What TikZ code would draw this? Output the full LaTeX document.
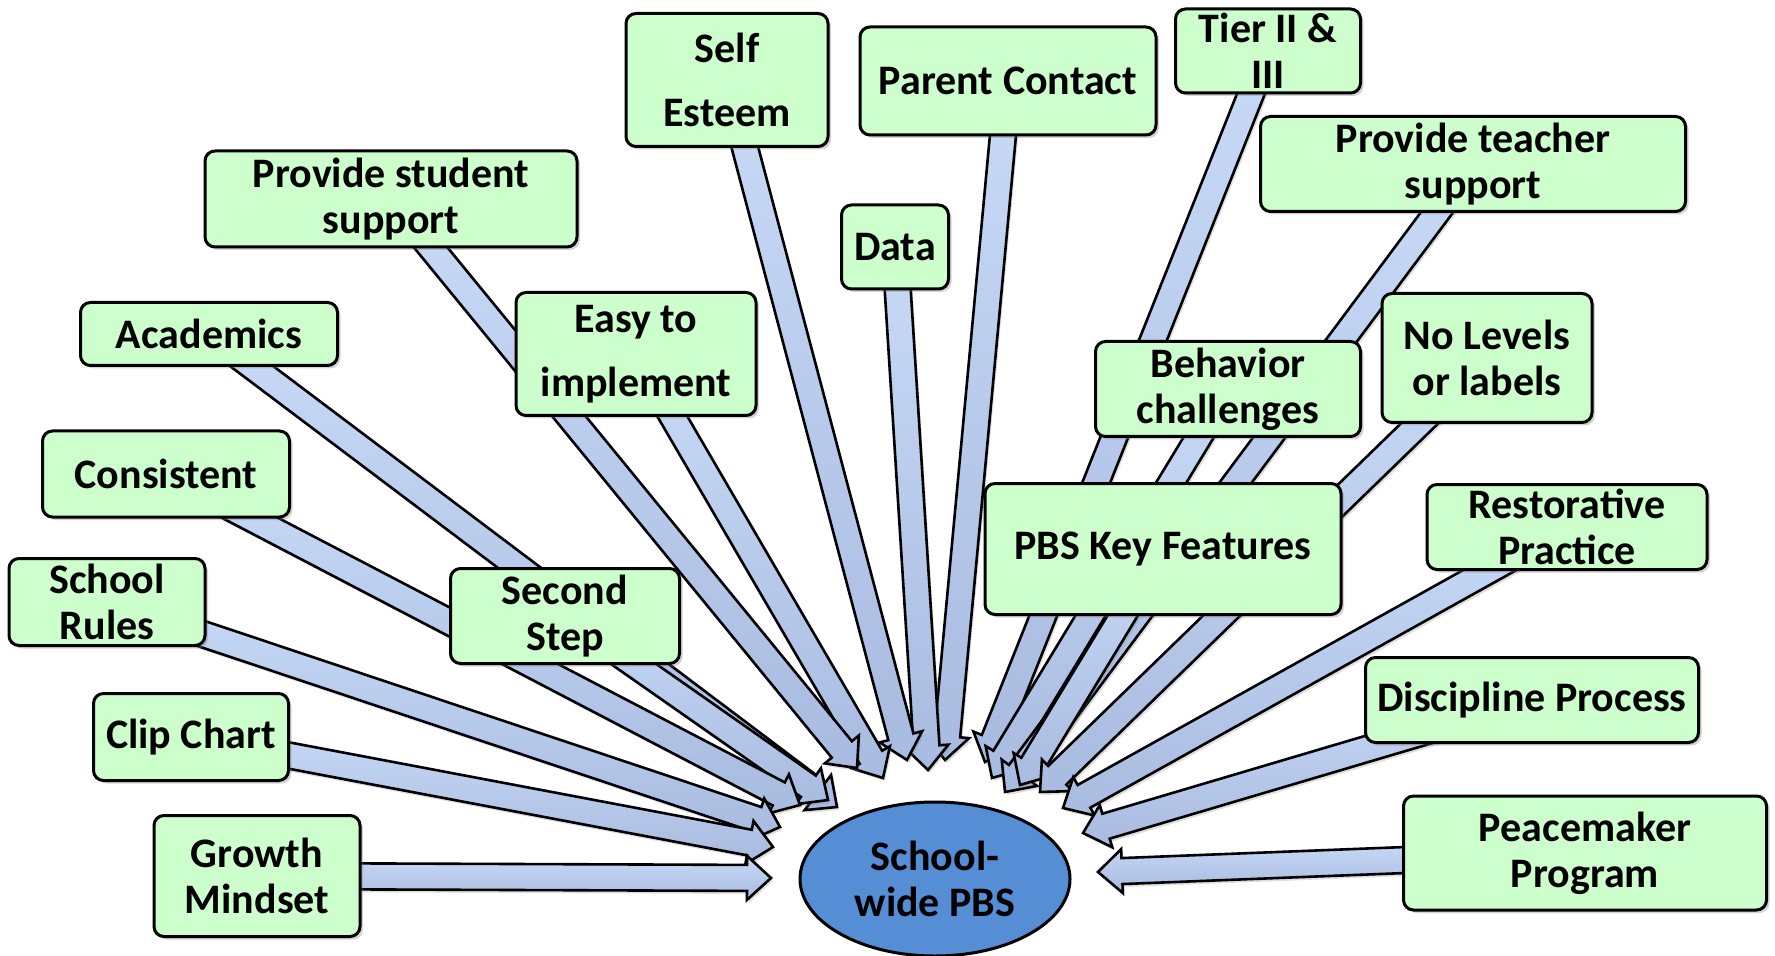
\documentclass[tikz,border=0pt]{standalone}
\usepackage{fontspec}
\setmainfont{Carlito}
\usetikzlibrary{shapes, calc, positioning, shadows}
\definecolor{boxgreen}{RGB}{204,255,204}
\definecolor{feedtop}{RGB}{200,218,247}
\definecolor{feedbot}{RGB}{168,187,224}
\definecolor{hubblue}{RGB}{85,142,213}
\pgfdeclarelayer{bg}
\pgfsetlayers{bg,main}
\newcommand{\shaftw}{6.5pt}
\newcommand{\headw}{11pt}
\newcommand{\headl}{12pt}
\newcommand{\feed}[2]{%
  \draw[feedarrow] let \p1=($(#2)-(#1.center)$), \n1={atan2(\y1,\x1)}, \n2={\n1+90}, \n3={\n1-90} in
    ($(#1.center)+(\n2:\shaftw)$) -- ($(#2)+(\n1:-\headl)+(\n2:\shaftw)$)
    -- ($(#2)+(\n1:-\headl)+(\n2:\headw)$) -- (#2)
    -- ($(#2)+(\n1:-\headl)+(\n3:\headw)$) -- ($(#2)+(\n1:-\headl)+(\n3:\shaftw)$)
    -- ($(#1.center)+(\n3:\shaftw)$) -- cycle;}

\begin{document}
\begin{tikzpicture}[x=0.5pt,y=-0.5pt,
    feedarrow/.style={draw=black, line width=1.3pt, line join=miter, top color=feedtop, bottom color=feedbot,
      drop shadow={opacity=0.25, shadow xshift=1pt, shadow yshift=-1.5pt}},
    box/.style={draw=black, line width=1.5pt, fill=boxgreen, rounded corners=5pt, align=center, inner sep=1pt,
      font=\bfseries\fontsize{21}{23}\selectfont,
      drop shadow={opacity=0.35, shadow xshift=1.5pt, shadow yshift=-1.5pt}}]
    \useasboundingbox (0,0) rectangle (1775,956);

    \begin{scope}
    \tikzstyle{every node}=[box]

    \node[minimum width=101pt, minimum height=66.5pt] (self) at (727,80) {Self\\[9pt]Esteem};
    \node[minimum width=148pt, minimum height=54pt] (parent) at (1008,81) {Parent Contact};
    \node[minimum width=92.5pt, minimum height=42pt] (tier) at (1268,51) {Tier II \&\\III};
    \node[minimum width=212.5pt, minimum height=47.5pt] (teacher) at (1473,164) {Provide teacher\\support};
    \node[minimum width=186pt, minimum height=48pt] (student) at (391,199) {Provide student\\support};
    \node[minimum width=53.5pt, minimum height=42pt] (data) at (895,247) {Data};
    \node[minimum width=128.5pt, minimum height=31.5pt] (academics) at (209,334) {Academics};
    \node[minimum width=120pt, minimum height=61.5pt] (easy) at (636,354) {Easy to\\[9pt]implement};
    \node[minimum width=105pt, minimum height=64.5pt] (levels) at (1487,358) {No Levels\\or labels};
    \node[minimum width=132.5pt, minimum height=47.5pt] (behavior) at (1228,389) {Behavior\\challenges};
    \node[minimum width=123.5pt, minimum height=43pt] (consistent) at (166,474) {Consistent};
    \node[minimum width=178pt, minimum height=65.5pt] (pbs) at (1163,549) {PBS Key Features};
    \node[minimum width=140pt, minimum height=42.5pt] (restorative) at (1567,527) {Restorative\\Practice};
    \node[minimum width=98pt, minimum height=43.5pt] (rules) at (107,602) {School\\Rules};
    \node[minimum width=114.5pt, minimum height=47.5pt] (second) at (565,616) {Second\\Step};
    \node[minimum width=166.5pt, minimum height=42.5pt] (discipline) at (1532,700) {Discipline Process};
    \node[minimum width=97.5pt, minimum height=43.5pt] (clip) at (191,737) {Clip Chart};
    \node[minimum width=103pt, minimum height=60.5pt] (growth) at (257,876) {Growth\\Mindset};
    \node[minimum width=181.5pt, minimum height=57pt] (peace) at (1585,853) {Peacemaker\\Program};

    \end{scope}

    \node[ellipse, draw=black, line width=1.5pt, fill=hubblue, minimum width=135pt, minimum height=77pt, inner sep=0pt,
      align=center, font=\bfseries\fontsize{21}{23}\selectfont] (hub) at (935,879) {School-\\wide PBS};

    \coordinate (growth_t) at (771,878);
    \coordinate (clip_t) at (773,847);
    \coordinate (rules_t) at (780,827);
    \coordinate (consistent_t) at (800,805);
    \coordinate (academics_t) at (837,807);
    \coordinate (second_t) at (828,800);
    \coordinate (student_t) at (857,768);
    \coordinate (easy_t) at (883,778);
    \coordinate (self_t) at (907,760);
    \coordinate (data_t) at (928,770);
    \coordinate (parent_t) at (945,760);
    \coordinate (tier_t) at (985,762);
    \coordinate (behavior_t) at (992,778);
    \coordinate (teacher_t) at (1005,792);
    \coordinate (pbs_t) at (1020,785);
    \coordinate (levels_t) at (1040,792);
    \coordinate (restorative_t) at (1063,808);
    \coordinate (discipline_t) at (1083,833);
    \coordinate (peace_t) at (1098,872);

    \begin{pgfonlayer}{bg}
    \feed{parent}{parent_t}
    \feed{data}{data_t}
    \feed{self}{self_t}
    \feed{easy}{easy_t}
    \feed{student}{student_t}
    \feed{academics}{academics_t}
    \feed{second}{second_t}
    \feed{consistent}{consistent_t}
    \feed{rules}{rules_t}
    \feed{clip}{clip_t}
    \feed{growth}{growth_t}
    \feed{tier}{tier_t}
    \feed{behavior}{behavior_t}
    \feed{teacher}{teacher_t}
    \feed{pbs}{pbs_t}
    \feed{levels}{levels_t}
    \feed{restorative}{restorative_t}
    \feed{discipline}{discipline_t}
    \feed{peace}{peace_t}
    \end{pgfonlayer}
\end{tikzpicture}
\end{document}
